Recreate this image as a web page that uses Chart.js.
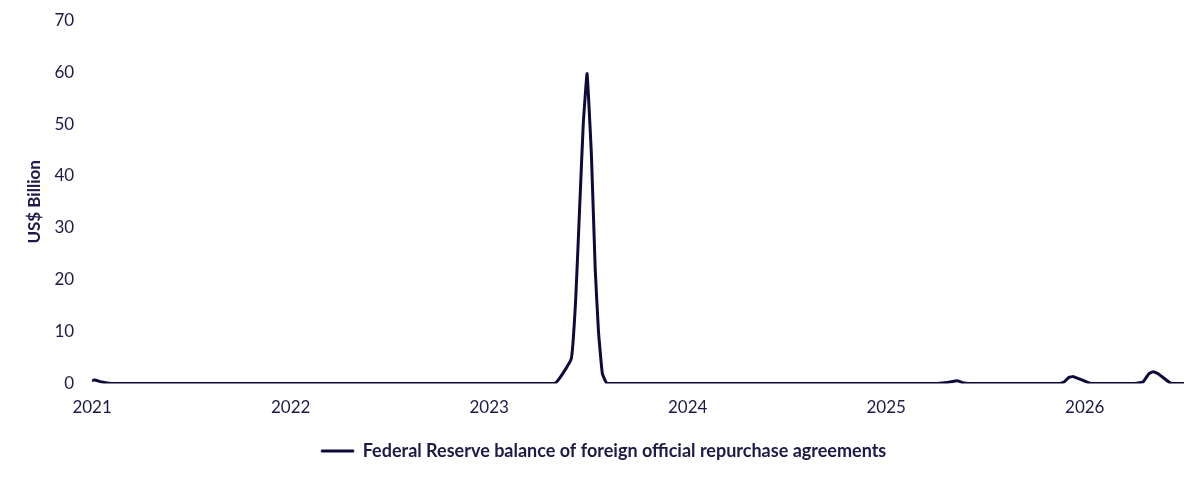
<!DOCTYPE html>
<html>
<head>
<meta charset="utf-8">
<script src="https://cdn.jsdelivr.net/npm/chart.js@4.4.1/dist/chart.umd.min.js"></script>
<style>
  html, body { margin: 0; padding: 0; background: #ffffff; }
  #wrap { width: 1200px; height: 480px; }
</style>
</head>
<body>
<div id="wrap"><canvas id="repoChart"></canvas></div>
<script>
// Fecha de observacion y saldo (miles de millones USD)
const fechas = [
    '2021-01-01', '2021-01-06', '2021-01-19', '2021-02-10',
    '2023-05-01', '2023-06-01', '2023-06-09', '2023-06-16', '2023-06-23', '2023-06-30',
    '2023-07-08', '2023-07-15', '2023-07-21', '2023-07-28', '2023-08-06',
    '2025-03-31', '2025-04-22', '2025-05-12', '2025-05-23', '2025-06-03',
    '2025-11-15', '2025-11-24', '2025-12-03', '2025-12-11', '2026-01-13',
    '2026-03-31', '2026-04-18', '2026-04-29', '2026-05-07', '2026-05-16', '2026-06-09', '2026-07-01'
];
const saldos = [
    0.6, 0.7, 0.3, 0,
    0, 4.8, 16, 33, 50, 59.7,
    44, 22, 10, 2, 0,
    0, 0.2, 0.55, 0.1, 0,
    0, 0.3, 1.2, 1.35, 0,
    0, 0.3, 1.9, 2.3, 1.9, 0, 0
];
const etiquetasAnios = [2021, 2022, 2023, 2024, 2025, 2026];
const ticksY = [0, 10, 20, 30, 40, 50, 60, 70];

const colorLinea = '#0c0b3b';
const colorTexto = '#1b1a48';
const fuente = 'Lato, "Noto Sans", sans-serif';

// convierte 'YYYY-MM-DD' a anio decimal
function anioDecimal(s) {
    const p = s.split('-').map(Number);
    const inicio = Date.UTC(p[0], 0, 1);
    const fin = Date.UTC(p[0] + 1, 0, 1);
    return p[0] + (Date.UTC(p[0], p[1] - 1, p[2]) - inicio) / (fin - inicio);
}

const puntos = fechas.map((f, i) => ({ x: anioDecimal(f), y: saldos[i] }));

const ctx = document.getElementById('repoChart').getContext('2d');
new Chart(ctx, {
    type: 'line',
    data: {
        datasets: [{
            label: 'Federal Reserve balance of foreign official repurchase agreements',
            data: puntos,
            borderColor: colorLinea,
            backgroundColor: colorLinea,
            borderWidth: 3,
            borderJoinStyle: 'round',
            borderCapStyle: 'round',
            pointRadius: 0,
            tension: 0.1,
            fill: false
        }]
    },
    options: {
        responsive: true,
        maintainAspectRatio: false,
        animation: false,
        layout: { padding: { left: 24, right: 16, top: 5, bottom: 10 } },
        plugins: {
            tooltip: { enabled: false },
            legend: {
                position: 'bottom',
                labels: {
                    color: colorTexto,
                    font: { family: fuente, size: 18, weight: 'bold' },
                    boxWidth: 32,
                    boxHeight: 2,
                    padding: 18,
                    // linea fina en la leyenda
                    generateLabels: function(chart) {
                        const items = Chart.defaults.plugins.legend.labels.generateLabels(chart);
                        items.forEach(it => { it.lineWidth = 1; });
                        return items;
                    }
                }
            }
        },
        scales: {
            x: {
                type: 'linear',
                min: 2021,
                max: 2026.5,
                grid: { display: false },
                border: { display: false },
                afterBuildTicks: function(axis) {
                    axis.ticks = etiquetasAnios.map(v => ({ value: v }));
                },
                ticks: {
                    color: colorTexto,
                    font: { family: fuente, size: 17 },
                    maxRotation: 0,
                    padding: 6,
                    callback: v => String(v)
                }
            },
            y: {
                min: 0,
                max: 70,
                grid: { display: false },
                border: { display: false },
                afterBuildTicks: function(axis) {
                    axis.ticks = ticksY.map(v => ({ value: v }));
                },
                title: {
                    display: true,
                    text: 'US$ Billion',
                    color: colorTexto,
                    padding: 0,
                    font: { family: fuente, size: 17, weight: 'bold' }
                },
                ticks: {
                    color: colorTexto,
                    font: { family: fuente, size: 17 },
                    padding: 10
                }
            }
        }
    }
});
</script>
</body>
</html>
